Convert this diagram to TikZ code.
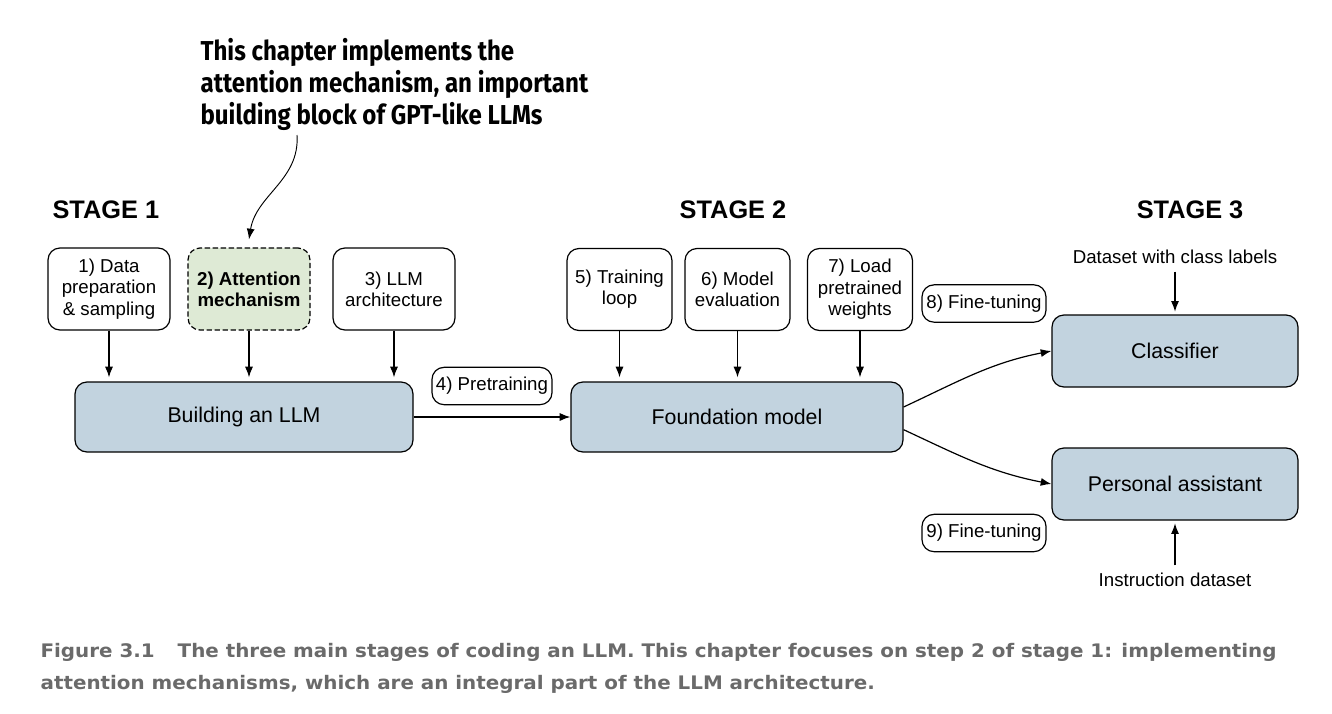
\documentclass[tikz,border=0pt]{standalone}
\usepackage{fontspec}
\setmainfont{Liberation Sans}
\newfontfamily\calloutfont[FakeStretch=0.88]{Fira Sans}
\newfontfamily\captionfont[FakeStretch=1.065]{DejaVu Sans}
\usetikzlibrary{arrows.meta}
\definecolor{boxblue}{RGB}{194,211,223}
\definecolor{attgreen}{RGB}{222,234,213}
\definecolor{capgray}{RGB}{106,106,106}

\begin{document}
\begin{tikzpicture}[x=0.75pt, y=-0.75pt, line width=0.9pt, >={Latex[length=8pt,width=6pt]}]
  \tikzset{stepbox/.style={draw,rounded corners=9pt,align=center,font=\fontsize{14}{16}\selectfont,minimum height=61.5pt,inner sep=2pt},
           bigbox/.style={draw,rounded corners=9pt,fill=boxblue,font=\fontsize{16}{19}\selectfont,minimum height=52.5pt},
           tagbox/.style={draw,rounded corners=9pt,font=\fontsize{14}{16}\selectfont,inner sep=2pt,minimum height=28pt},
           stagetext/.style={font=\fontsize{19}{22}\selectfont\bfseries},
           plain/.style={font=\fontsize{14}{16}\selectfont}}
  \useasboundingbox (0,0) rectangle (1332,714);
  % callout
  \node[anchor=north west,align=left,inner sep=0pt,font=\calloutfont\fontsize{20.5}{24}\selectfont\bfseries] (callout) at (200,38)
    {This chapter implements the\\attention mechanism, an important\\building block of GPT-like LLMs};
  % stage titles
  \node[stagetext,anchor=west,inner sep=0pt] (st1) at (52,210) {STAGE 1};
  \node[stagetext,inner sep=0pt] (st2) at (733,210) {STAGE 2};
  \node[stagetext,inner sep=0pt] (st3) at (1190,210) {STAGE 3};
  % stage 1
  \node[stepbox,minimum width=91.5pt] (data) at (109,289) {1) Data\\preparation\\\& sampling};
  \node[stepbox,minimum width=91.5pt,fill=attgreen,dash pattern=on 4pt off 2pt] (att) at (249,289) {\bfseries 2) Attention\\\bfseries mechanism};
  \node[stepbox,minimum width=91.5pt] (arch) at (394,289) {3) LLM\\architecture};
  \node[bigbox,minimum width=253.5pt] (build) at (244,417) {Building an LLM};
  \node[tagbox,minimum width=90pt] (pre) at (492,386) {4) Pretraining};
  % stage 2
  \node[stepbox,minimum width=78.75pt] (train) at (619.5,289.5) {5) Training\\loop};
  \node[stepbox,minimum width=78.75pt] (eval) at (737.5,289.5) {6) Model\\evaluation};
  \node[stepbox,minimum width=78.75pt] (load) at (860,289.5) {7) Load\\pretrained\\weights};
  \node[bigbox,minimum width=249pt] (found) at (737,417) {Foundation model};
  % stage 3
  \node[tagbox,minimum width=93pt] (ft8) at (984,303.5) {8) Fine-tuning};
  \node[tagbox,minimum width=93pt] (ft9) at (984,533) {9) Fine-tuning};
  \node[bigbox,minimum width=184.5pt,minimum height=54pt] (cls) at (1175,351) {Classifier};
  \node[bigbox,minimum width=184.5pt,minimum height=54pt] (pa) at (1175,484) {Personal assistant};
  \node[plain] (clsdata) at (1175,257) {Dataset with class labels};
  \node[plain] (instr) at (1175,580) {Instruction dataset};
  % caption
  \node[anchor=north west,align=left,inner sep=0pt,text=capgray,font=\captionfont\fontsize{14}{23.5}\selectfont\bfseries] (caption) at (40,643)
    {Figure 3.1\hspace{12pt} The three main stages of coding an LLM. This chapter focuses on step 2 of stage 1: implementing\\attention mechanisms, which are an integral part of the LLM architecture.};
  % connectors
  \coordinate (cstart) at (297,135);
  \draw[->,line width=0.7pt] (cstart) .. controls (300,180) and (256,195) .. ([yshift=6pt]att.north);
  \foreach \s in {data,att,arch}
    \draw[->,shorten >=3pt] (\s) -- (\s |- build.north);
  \foreach \s in {train,eval,load}
    \draw[->,shorten >=3pt] (\s) -- (\s |- found.north);
  \draw[->] (build.east) -- (found.west);
  \draw[->] ([yshift=7.5pt]found.east) to[out=25,in=191] (cls.west);
  \draw[->] ([yshift=-9.5pt]found.east) to[out=-25,in=169] (pa.west);
  \draw[->,shorten <=2pt,shorten >=2pt] (clsdata) -- (cls);
  \draw[->,shorten <=2pt,shorten >=2pt] (instr) -- (pa);
\end{tikzpicture}
\end{document}
